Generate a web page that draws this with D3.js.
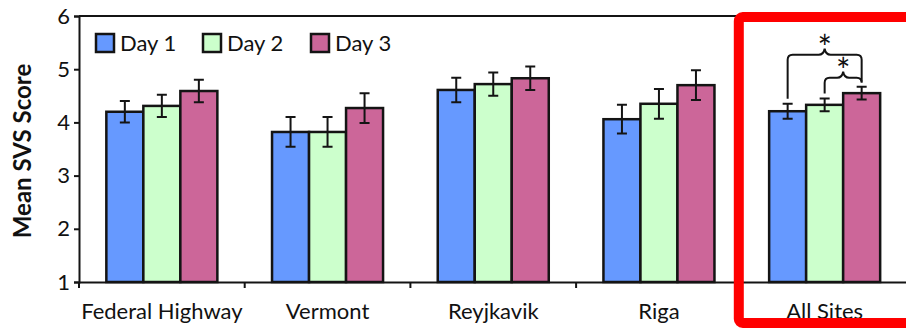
<!DOCTYPE html>
<html>
<head>
<meta charset="utf-8">
<script src="https://cdn.jsdelivr.net/npm/d3@7"></script>
<style>
  html, body { margin: 0; padding: 0; background: #fff; overflow: hidden; }
  text { font-family: Lato, "Open Sans", sans-serif; fill: #111; }
</style>
</head>
<body>
<svg id="chart" width="906" height="328"></svg>
<script>
// Mean SVS score per site and day, with standard error
const sites = ["Federal Highway", "Vermont", "Reyjkavik", "Riga", "All Sites"];
const days = ["Day 1", "Day 2", "Day 3"];
const day1Mean = [4.20, 3.82, 4.61, 4.06, 4.21];
const day2Mean = [4.31, 3.82, 4.72, 4.35, 4.33];
const day3Mean = [4.59, 4.27, 4.83, 4.70, 4.55];
const day1Err = [0.20, 0.28, 0.23, 0.27, 0.14];
const day2Err = [0.21, 0.28, 0.22, 0.28, 0.12];
const day3Err = [0.21, 0.28, 0.22, 0.28, 0.12];
const yTicks = [1, 2, 3, 4, 5, 6];
const yLabel = "Mean SVS Score";
const dayColors = ["#6699ff", "#ccffcc", "#cc6699"];
// significant pairwise differences (pooled sites)
const comparisons = [
  { site: "All Sites", from: "Day 1", to: "Day 3", label: "*" },
  { site: "All Sites", from: "Day 2", to: "Day 3", label: "*" }
];
const highlightSite = "All Sites";

const means = [day1Mean, day2Mean, day3Mean];
const errs = [day1Err, day2Err, day3Err];
const rows = [];
sites.forEach((s, i) => days.forEach((d, j) => {
  rows.push({ site: s, day: d, mean: means[j][i], err: errs[j][i], color: dayColors[j] });
}));

const svg = d3.select("#chart");
const plotL = 79, plotR = 907.5, plotT = 16, plotB = 282;

const x0 = d3.scaleBand().domain(sites).range([plotL, plotR]).padding(0);
const groupW = x0.bandwidth() * 0.67;
const x1 = d3.scaleBand().domain(days)
  .range([(x0.bandwidth() - groupW) / 2, (x0.bandwidth() + groupW) / 2]).padding(0);
const y = d3.scaleLinear().domain([1, 6]).range([plotB, plotT]);

const ink = "#141414";

// bars
svg.append("g").selectAll("rect").data(rows).join("rect")
  .attr("x", d => x0(d.site) + x1(d.day))
  .attr("y", d => y(d.mean))
  .attr("width", x1.bandwidth())
  .attr("height", d => y(1) - y(d.mean))
  .attr("fill", d => d.color)
  .attr("stroke", ink)
  .attr("stroke-width", 2.5);

// error bars
const eb = svg.append("g").attr("stroke", ink).attr("stroke-width", 2).attr("fill", "none");
const cap = 5;
rows.forEach(d => {
  const cx = x0(d.site) + x1(d.day) + x1.bandwidth() / 2;
  const y0 = y(d.mean - d.err), y1 = y(d.mean + d.err);
  eb.append("path").attr("d",
    `M${cx},${y0}V${y1}M${cx - cap},${y0}H${cx + cap}M${cx - cap},${y1}H${cx + cap}`);
});

// frame: top border line
svg.append("line").attr("x1", plotL).attr("x2", plotR).attr("y1", y(6)).attr("y2", y(6))
  .attr("stroke", ink).attr("stroke-width", 2);

// y axis
const yAxis = svg.append("g").attr("transform", `translate(${plotL},0)`)
  .call(d3.axisLeft(y).tickValues(yTicks).tickSize(5).tickPadding(4).tickFormat(d3.format("d")));
yAxis.select(".domain").attr("stroke", ink).attr("stroke-width", 2);
yAxis.selectAll(".tick line").attr("stroke", ink).attr("stroke-width", 2);
yAxis.selectAll("text").attr("font-size", 22).attr("font-family", "Lato").attr("fill", "#111");

// x axis with labels
const xAxis = svg.append("g").attr("transform", `translate(0,${plotB})`)
  .call(d3.axisBottom(x0).tickSize(0).tickPadding(21));
xAxis.select(".domain").attr("stroke", ink).attr("stroke-width", 2);
xAxis.selectAll("text").attr("font-size", 22).attr("font-family", "Lato").attr("fill", "#111");
// category boundary ticks
const bounds = sites.map(s => x0(s)).concat([plotR]);
svg.append("g").selectAll("line").data(bounds).join("line")
  .attr("x1", d => d).attr("x2", d => d).attr("y1", plotB).attr("y2", plotB + 6)
  .attr("stroke", ink).attr("stroke-width", 2);

// y title
svg.append("text")
  .attr("transform", `translate(31,${(plotT + plotB) / 2 + 2}) rotate(-90)`)
  .attr("text-anchor", "middle")
  .attr("font-size", 24).attr("font-weight", 700)
  .text(yLabel);

// legend
const lg = svg.append("g");
const legX = [96, 203, 311];
days.forEach((d, j) => {
  lg.append("rect").attr("x", legX[j]).attr("y", 34).attr("width", 18).attr("height", 18)
    .attr("fill", dayColors[j]).attr("stroke", ink).attr("stroke-width", 2.5);
  lg.append("text").attr("x", legX[j] + 24).attr("y", 51).attr("font-size", 22).text(d);
});

// significance braces
const rowOf = (site, day) => rows.find(r => r.site === site && r.day === day);
const barCx = (site, day) => x0(site) + x1(day) + x1.bandwidth() / 2;
const br = svg.append("g");
const gap = 5;
const inner = comparisons[1], outer = comparisons[0];
function brace(c, yLine) {
  const xa = barCx(c.site, c.from), xb = barCx(c.site, c.to);
  const ya = y(rowOf(c.site, c.from).mean + rowOf(c.site, c.from).err) - gap;
  const yb = y(rowOf(c.site, c.to).mean + rowOf(c.site, c.to).err) - gap;
  const xm = (xa + xb) / 2;
  const p = d3.path();
  p.moveTo(xa, ya);
  p.lineTo(xa, yLine + 5);
  p.quadraticCurveTo(xa, yLine, xa + 5, yLine);
  p.lineTo(xm - 6, yLine);
  p.quadraticCurveTo(xm - 1, yLine, xm, yLine - 6);
  p.quadraticCurveTo(xm + 1, yLine, xm + 6, yLine);
  p.lineTo(xb - 5, yLine);
  p.quadraticCurveTo(xb, yLine, xb, yLine + 5);
  p.lineTo(xb, yb);
  br.append("path").attr("d", p.toString()).attr("fill", "none")
    .attr("stroke", ink).attr("stroke-width", 2);
  br.append("text").attr("x", xm).attr("y", yLine + 5).attr("text-anchor", "middle")
    .attr("font-size", 34).text(c.label);
}
const innerY = y(rowOf(inner.site, inner.to).mean + rowOf(inner.site, inner.to).err) - 9;
const outerY = innerY - 23;
brace(inner, innerY);
brace(outer, outerY);

// highlight frame around the pooled group
const hx = x0(highlightSite);
svg.append("rect")
  .attr("x", hx - 3).attr("y", 17)
  .attr("width", x0.bandwidth() + 10).attr("height", 306)
  .attr("rx", 4)
  .attr("fill", "none").attr("stroke", "#ff0000").attr("stroke-width", 10);
</script>
</body>
</html>
